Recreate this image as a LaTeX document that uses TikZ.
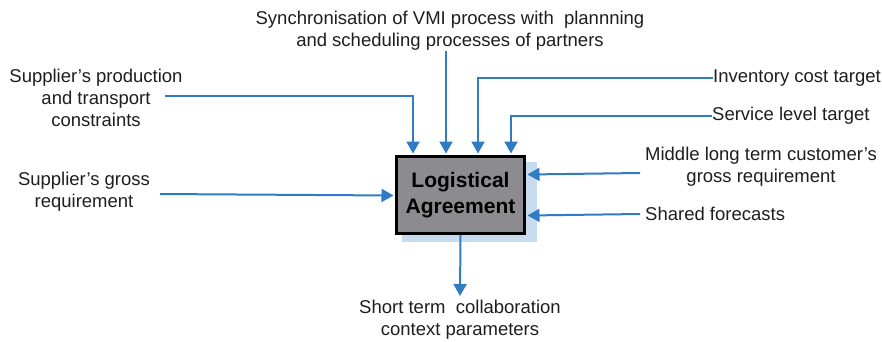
\documentclass[tikz,border=0pt]{standalone}
\usepackage{fontspec}
\setmainfont{Liberation Sans}
\usetikzlibrary{arrows.meta,calc}
\definecolor{ablue}{HTML}{2F7BC4}
\definecolor{shadowblue}{HTML}{C8DCF0}
\definecolor{boxgrey}{HTML}{8C8C90}
\definecolor{txt}{HTML}{1E1E1E}
\begin{document}
\begin{tikzpicture}[x=1pt,y=-1pt,
  lbl/.style={inner sep=0pt, align=center, text=txt, font=\fontsize{18.5}{22}\selectfont},
  arr/.style={draw=ablue, line width=2pt, -{Triangle[length=12pt,width=13pt]}},
  mainbox/.style={draw=black, line width=3pt, fill=boxgrey, minimum width=128pt, minimum height=77pt,
    inner sep=0pt, align=center, font=\bfseries\fontsize{21}{26}\selectfont, text=black},
  shadowbox/.style={fill=shadowblue, draw=none}]
\useasboundingbox (0,0) rectangle (882,341);
% shadow
\path[shadowbox] (402,162) rectangle (537,242);
% main box
\node[mainbox] (la) at (460.5,195) {Logistical\\Agreement};
% labels
\node[lbl] (sync) at (450,31) {Synchronisation of VMI process with~~plannning\\and scheduling processes of partners};
\node[lbl] (sprod) at (96,98) {Supplier's production\\and transport\\constraints};
\node[lbl] (sgross) at (84,192) {Supplier's gross\\requirement};
\node[lbl, anchor=west] (inv) at (713,78) {Inventory cost target};
\node[lbl, anchor=west] (serv) at (712,116) {Service level target};
\node[lbl] (mid) at (761,167) {Middle long term customer's\\gross requirement};
\node[lbl, anchor=west] (shared) at (645,214) {Shared forecasts};
\node[lbl] (short) at (460,320) {Short term~~collaboration\\context parameters};
% free ends
\coordinate (sprodS) at (165,96);
\coordinate (sgrossS) at (160,194);
\coordinate (midS) at (640,173);
\coordinate (sharedS) at (640,214);
\coordinate (shortE) at (460,296);
% arrows
\draw[arr] (sprodS) -| ($(la.north west)+(18,-1.5)$);
\draw[arr] (sync.south -| 446,0) -- ($(la.north west)+(51,-1.5)$);
\draw[arr] (inv.west) -| ($(la.north west)+(83,-1.5)$);
\draw[arr] (serv.west) -| ($(la.north west)+(116,-1.5)$);
\draw[arr] (sgrossS) -- ($(la.north west)+(-1.5,40.5)$);
\draw[arr] (midS) -- ($(la.north east)+(1.5,19.5)$);
\draw[arr] (sharedS) -- ($(la.north east)+(1.5,60.5)$);
\draw[arr] (la.south) -- (shortE);
\end{tikzpicture}
\end{document}
